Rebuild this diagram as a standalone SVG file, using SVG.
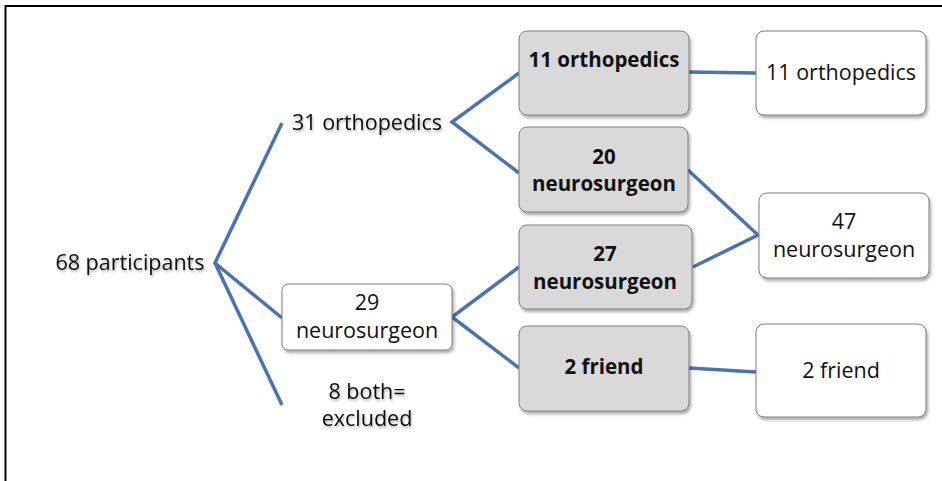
<svg xmlns="http://www.w3.org/2000/svg" width="942" height="481" viewBox="0 0 942 481">
<defs>
<filter id="bs" x="-10%" y="-10%" width="130%" height="140%">
<feDropShadow dx="1.5" dy="2.5" stdDeviation="1.5" flood-color="#000" flood-opacity="0.35"/>
</filter>
<filter id="ts" x="-10%" y="-30%" width="130%" height="170%">
<feDropShadow dx="1" dy="2" stdDeviation="1.2" flood-color="#000" flood-opacity="0.3"/>
</filter>
<style>
.gray{fill:#d9d9d9;stroke:#7f7f7f;stroke-width:1}
.white{fill:#fff;stroke:#7f7f7f;stroke-width:1}
.t{font-family:"Open Sans","DejaVu Sans",sans-serif;font-size:21.5px;fill:#111;text-anchor:middle}
.b{font-family:"Open Sans","DejaVu Sans",sans-serif;font-size:20.5px;font-weight:bold;fill:#111;text-anchor:middle}
.conn{fill:none;stroke:#4a74ab;stroke-width:3.5;stroke-linejoin:miter}
</style>
</defs>
<rect width="942" height="481" fill="#fff"/>
<path d="M5.5,481 V6 H942" fill="none" stroke="#000" stroke-width="2"/>
<g id="connectors">
<path class="conn" d="M282,123 L215,263 L282,318"/>
<path class="conn" d="M215,263 L282,405"/>
<path class="conn" d="M519,73 L452,122 L519,173"/>
<path class="conn" d="M519,267 L452,317 L519,368"/>
<path class="conn" d="M689,72 L756,73"/>
<path class="conn" d="M688,170 L758,235 L693,267"/>
<path class="conn" d="M689,368 L756,372"/>
</g>
<g id="n68">
<text class="t" x="130" y="270" filter="url(#ts)">68 participants</text>
</g>
<g id="n31">
<text class="t" x="367" y="130" filter="url(#ts)">31 orthopedics</text>
</g>
<g id="n29">
<rect class="white" x="282" y="284" width="170" height="66" rx="6" filter="url(#bs)"/>
<text class="t" x="367" y="310">29</text>
<text class="t" x="367" y="338">neurosurgeon</text>
</g>
<g id="n8">
<text class="t" x="367" y="399" filter="url(#ts)">8 both=</text>
<text class="t" x="367" y="426" filter="url(#ts)">excluded</text>
</g>
<g id="g11">
<rect class="gray" x="519" y="31" width="170" height="84" rx="8" filter="url(#bs)"/>
<text class="b" x="604" y="67">11 orthopedics</text>
</g>
<g id="g20">
<rect class="gray" x="519" y="127" width="169" height="85" rx="8" filter="url(#bs)"/>
<text class="b" x="604" y="164">20</text>
<text class="b" x="604" y="191">neurosurgeon</text>
</g>
<g id="g27">
<rect class="gray" x="519" y="225" width="173" height="84" rx="8" filter="url(#bs)"/>
<text class="b" x="605" y="261">27</text>
<text class="b" x="605" y="289">neurosurgeon</text>
</g>
<g id="g2">
<rect class="gray" x="519" y="326" width="170" height="85" rx="8" filter="url(#bs)"/>
<text class="b" x="604" y="374">2 friend</text>
</g>
<g id="w11">
<rect class="white" x="756" y="31" width="170" height="84" rx="8" filter="url(#bs)"/>
<text class="t" x="841" y="80">11 orthopedics</text>
</g>
<g id="w47">
<rect class="white" x="759" y="193" width="170" height="85" rx="8" filter="url(#bs)"/>
<text class="t" x="844" y="229">47</text>
<text class="t" x="844" y="257">neurosurgeon</text>
</g>
<g id="w2">
<rect class="white" x="756" y="324" width="170" height="93" rx="8" filter="url(#bs)"/>
<text class="t" x="841" y="378">2 friend</text>
</g>
</svg>
